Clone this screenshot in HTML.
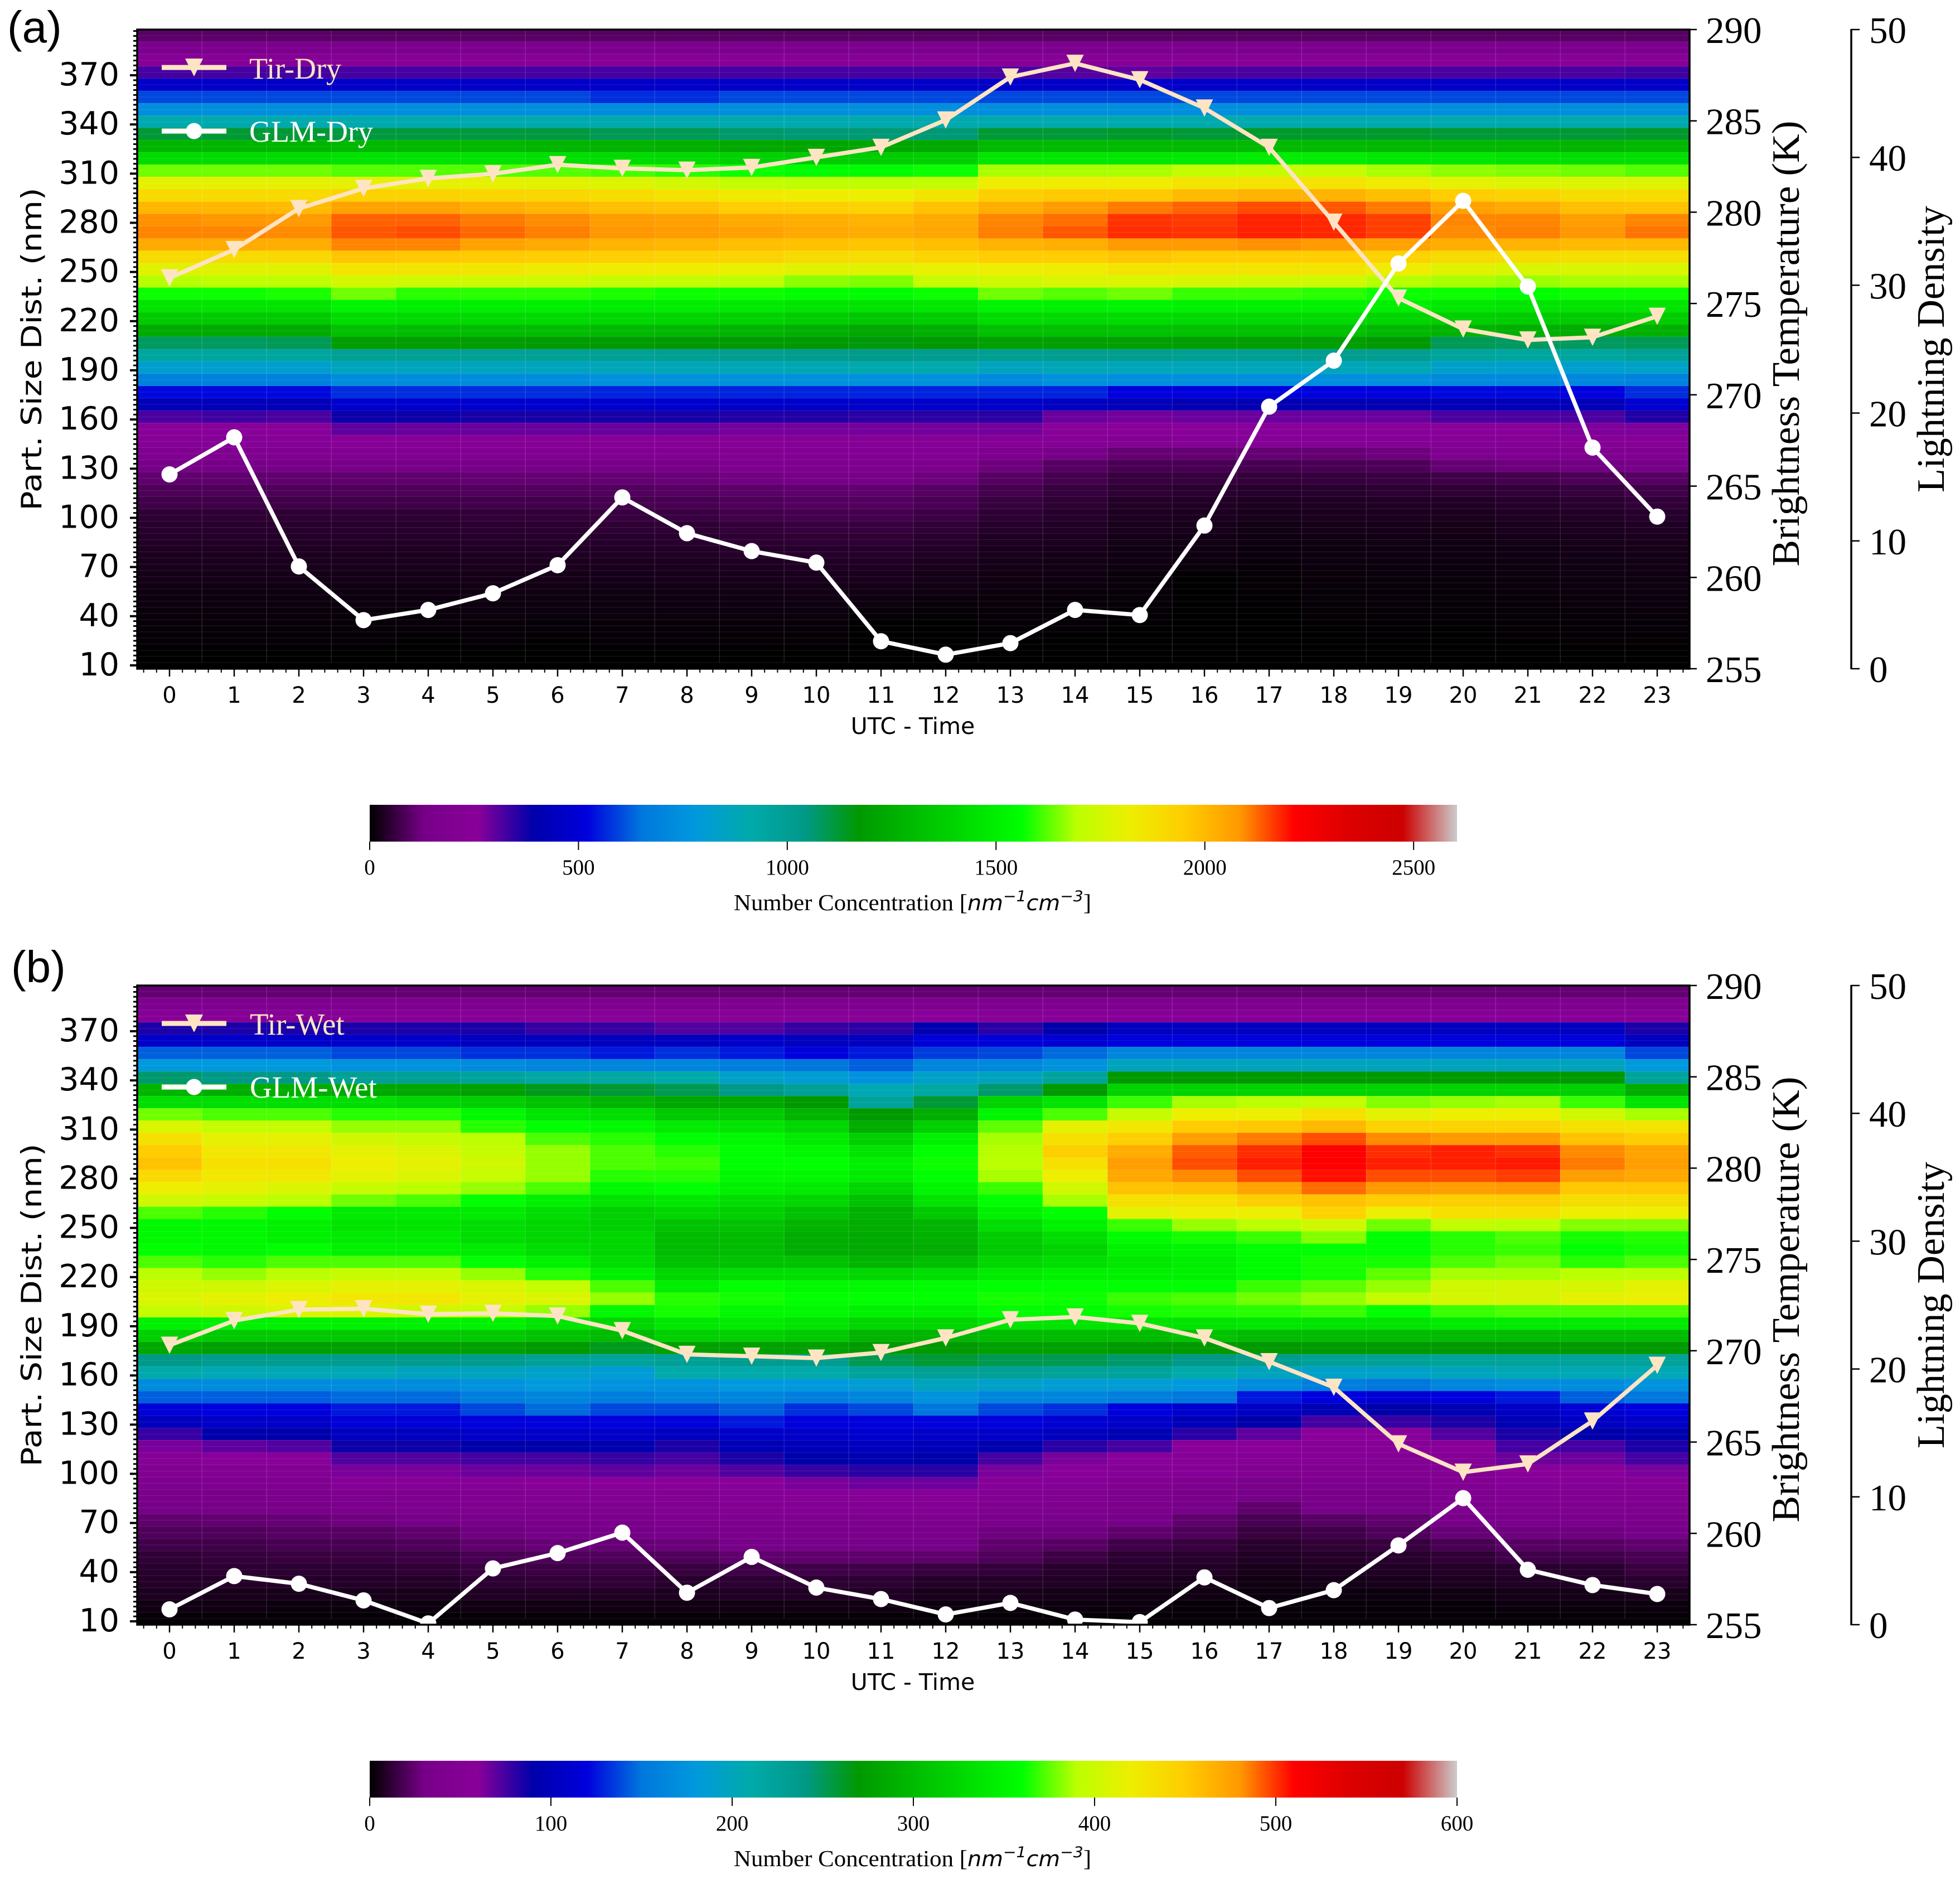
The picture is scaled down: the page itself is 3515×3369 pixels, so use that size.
<!DOCTYPE html>
<html lang="en">
<head>
<meta charset="utf-8">
<title>Particle size distribution with brightness temperature and lightning density</title>
<style>
html,body{margin:0;padding:0;background:#fff}
svg{display:block}
text{fill:#000}
.dv{font-family:"DejaVu Sans",sans-serif}
.sr{font-family:"Liberation Serif",serif}
.ss{font-family:"Liberation Sans",sans-serif}
</style>
</head>
<body>
<svg xmlns="http://www.w3.org/2000/svg" width="3515" height="3369" viewBox="0 0 3515 3369">
<defs>
<clipPath id="plot-clip"><rect x="246" y="53" width="2784" height="1146"/></clipPath>
<clipPath id="plot-clip-b"><rect x="246" y="1767" width="2784" height="1146"/></clipPath>
<linearGradient id="cbar-grad" x1="0" x2="1" y1="0" y2="0"></linearGradient>
</defs>

<g id="panel-a">
<g id="heat-a" shape-rendering="crispEdges"></g>
<g id="grid-a" shape-rendering="crispEdges"></g>
<g id="series-a" clip-path="url(#plot-clip)"></g>
<g id="axes-a"></g>
<text class="ss" x="13" y="76" font-size="80">(a)</text>
<g>
<line x1="290" x2="406" y1="121" y2="121" stroke="#ffe4c4" stroke-width="9"/>
<polygon points="332,105 364,105 348,137" fill="#ffe4c4"/>
<text class="sr" x="447" y="141" font-size="54" style="fill:#ffe4c4">Tir-Dry</text>
<line x1="290" x2="406" y1="235" y2="235" stroke="#fff" stroke-width="9"/>
<circle cx="348" cy="235" r="14.5" fill="#fff"/>
<text class="sr" x="447" y="254" font-size="54" style="fill:#fff">GLM-Dry</text>
</g>
<text class="dv" x="1637" y="1316" font-size="41" text-anchor="middle">UTC - Time</text>
<text class="dv" transform="translate(74,626) rotate(-90)" font-size="50" text-anchor="middle" textLength="579" lengthAdjust="spacingAndGlyphs">Part. Size Dist. (nm)</text>
<text class="sr" transform="translate(3226,616) rotate(-90)" font-size="70" text-anchor="middle" textLength="799" lengthAdjust="spacingAndGlyphs">Brightness Temperature (K)</text>
<text class="sr" transform="translate(3486,626) rotate(-90)" font-size="70" text-anchor="middle" textLength="514" lengthAdjust="spacingAndGlyphs">Lightning Density</text>
<g id="cbar-a"></g>
<text class="sr" x="1316" y="1632" font-size="41" textLength="641" lengthAdjust="spacingAndGlyphs">Number Concentration [<tspan class="dv" font-style="italic" font-size="38">nm</tspan><tspan class="dv" font-style="italic" font-size="27" dy="-16">−1</tspan><tspan class="dv" font-style="italic" font-size="38" dy="16">cm</tspan><tspan class="dv" font-style="italic" font-size="27" dy="-16">−3</tspan><tspan dy="16">]</tspan></text>
</g>

<g id="panel-b">
<g id="heat-b" shape-rendering="crispEdges"></g>
<g id="grid-b" shape-rendering="crispEdges"></g>
<g id="series-b" clip-path="url(#plot-clip-b)"></g>
<g id="axes-b"></g>
<text class="ss" x="20" y="1761" font-size="80">(b)</text>
<g>
<line x1="290" x2="406" y1="1835" y2="1835" stroke="#ffe4c4" stroke-width="9"/>
<polygon points="332,1819 364,1819 348,1851" fill="#ffe4c4"/>
<text class="sr" x="448" y="1855" font-size="55" style="fill:#ffe4c4">Tir-Wet</text>
<line x1="290" x2="406" y1="1949" y2="1949" stroke="#fff" stroke-width="9"/>
<circle cx="348" cy="1949" r="14.5" fill="#fff"/>
<text class="sr" x="448" y="1968" font-size="55" style="fill:#fff">GLM-Wet</text>
</g>
<text class="dv" x="1637" y="3030" font-size="41" text-anchor="middle">UTC - Time</text>
<text class="dv" transform="translate(74,2340) rotate(-90)" font-size="50" text-anchor="middle" textLength="579" lengthAdjust="spacingAndGlyphs">Part. Size Dist. (nm)</text>
<text class="sr" transform="translate(3226,2330) rotate(-90)" font-size="70" text-anchor="middle" textLength="799" lengthAdjust="spacingAndGlyphs">Brightness Temperature (K)</text>
<text class="sr" transform="translate(3486,2340) rotate(-90)" font-size="70" text-anchor="middle" textLength="514" lengthAdjust="spacingAndGlyphs">Lightning Density</text>
<g id="cbar-b"></g>
<text class="sr" x="1316" y="3346" font-size="41" textLength="641" lengthAdjust="spacingAndGlyphs">Number Concentration [<tspan class="dv" font-style="italic" font-size="38">nm</tspan><tspan class="dv" font-style="italic" font-size="27" dy="-16">−1</tspan><tspan class="dv" font-style="italic" font-size="38" dy="16">cm</tspan><tspan class="dv" font-style="italic" font-size="27" dy="-16">−3</tspan><tspan dy="16">]</tspan></text>
</g>
</svg>

<script>
const hours = [0,1,2,3,4,5,6,7,8,9,10,11,12,13,14,15,16,17,18,19,20,21,22,23];
const sizeTicks = [10,40,70,100,130,160,190,220,250,280,310,340,370];
const tempTicks = [255,260,265,270,275,280,285,290];
const lightningTicks = [0,10,20,30,40,50];
const dryBarTicks = [0,500,1000,1500,2000,2500];
const wetBarTicks = [0,100,200,300,400,500,600];
const tirDry = [276.4,277.95,280.2,281.3,281.85,282.1,282.6,282.4,282.3,282.45,283,283.55,285.05,287.4,288.15,287.25,285.7,283.55,279.45,275.3,273.6,273,273.15,274.3];
const glmDry = [15.2,18.1,8,3.8,4.6,5.9,8.1,13.4,10.6,9.2,8.3,2.15,1.1,2,4.6,4.2,11.2,20.5,24.1,31.7,36.6,29.9,17.3,11.9];
const tirWet = [270.3,271.65,272.25,272.3,272,272.05,271.9,271.1,269.8,269.7,269.6,269.9,270.7,271.7,271.85,271.5,270.7,269.4,268,264.9,263.35,263.8,266.15,269.2];
const glmWet = [1.2,3.8,3.2,1.9,0.1,4.4,5.6,7.2,2.5,5.3,2.9,2,0.8,1.7,0.4,0.2,3.7,1.3,2.7,6.2,9.9,4.3,3.1,2.4];

/* one array per UTC hour, 52 size bins from largest to smallest */
const dryCells = [
[100,170,245,325,470,600,740,900,1120,1280,1430,1640,1800,1900,2010,2090,2100,2040,1900,1790,1690,1570,1460,1360,1240,1080,950,820,690,530,430,320,260,240,200,130,105,85,68,50,44,38,32,27,22,16,13,11,8,6,1,0],
[100,170,245,325,470,600,740,900,1120,1280,1430,1640,1800,1900,2010,2085,2100,2035,1900,1790,1700,1570,1460,1360,1240,1080,950,820,690,530,430,330,260,240,200,130,105,85,68,50,44,38,32,27,22,16,13,11,8,6,1,0],
[100,170,245,325,470,600,740,900,1120,1280,1430,1640,1800,1900,2000,2080,2095,2030,1910,1790,1700,1580,1460,1360,1240,1090,950,820,690,530,430,320,260,240,200,130,105,85,68,50,44,38,32,27,22,16,13,11,8,6,1,0],
[95,170,245,325,470,600,740,900,1110,1290,1450,1620,1800,1930,2060,2130,2140,2100,1970,1860,1750,1640,1520,1430,1320,1190,990,860,730,570,480,380,300,250,205,135,105,85,68,50,44,38,32,27,22,16,13,11,8,6,1,0],
[95,170,245,325,470,600,740,900,1110,1290,1450,1620,1800,1930,2060,2130,2150,2100,1960,1860,1740,1590,1500,1420,1310,1190,990,860,730,570,480,380,290,245,205,135,105,85,68,50,44,38,32,27,22,16,13,11,8,3,0,0],
[95,170,245,325,470,600,740,900,1110,1290,1450,1620,1800,1920,2030,2110,2125,2060,1955,1855,1740,1590,1500,1420,1310,1190,990,860,730,570,480,370,290,245,205,135,110,90,72,55,46,40,34,28,23,17,14,12,9,6,1,0],
[95,170,245,325,470,600,740,900,1110,1280,1440,1620,1790,1910,2010,2095,2105,2040,1950,1840,1740,1590,1500,1420,1310,1180,990,860,730,570,480,370,290,245,210,140,110,90,72,55,46,40,34,28,23,17,14,12,7,3,0,0],
[95,170,245,325,470,570,730,900,1090,1270,1430,1610,1780,1890,1990,2075,2085,2020,1940,1830,1720,1580,1490,1410,1300,1180,990,870,750,560,480,370,290,245,210,140,110,90,75,60,50,42,35,29,24,18,14,12,9,6,1,0],
[95,170,245,325,470,570,730,900,1090,1260,1420,1590,1750,1870,1980,2065,2075,2010,1930,1830,1710,1570,1490,1400,1290,1170,1000,880,750,560,480,370,290,245,210,140,115,95,78,62,50,44,36,30,25,19,15,12,9,6,1,0],
[95,170,245,325,470,600,740,900,1070,1230,1390,1570,1710,1840,1950,2040,2060,1990,1930,1810,1700,1570,1480,1390,1280,1170,1010,880,750,560,470,360,280,240,210,180,125,100,85,72,56,48,40,32,26,20,15,12,9,5,1,0],
[95,170,245,325,470,600,740,900,1060,1220,1370,1550,1700,1830,1940,2030,2045,1980,1900,1790,1660,1560,1460,1370,1260,1170,1020,890,750,560,470,360,280,240,215,180,130,105,90,75,60,50,42,34,27,21,16,12,9,5,1,0],
[95,170,245,325,470,600,740,900,1060,1220,1370,1550,1700,1820,1930,2020,2035,1970,1890,1790,1650,1550,1450,1350,1230,1160,1030,900,750,560,470,350,280,240,215,180,130,105,90,75,60,50,42,34,27,21,14,8,2,0,0,0],
[95,170,245,325,470,600,740,900,1060,1230,1380,1570,1710,1860,1980,2040,2050,1990,1920,1810,1720,1570,1470,1370,1260,1170,1020,900,750,560,470,350,280,240,215,170,120,95,80,66,52,44,36,28,22,17,11,6,1,0,0,0],
[95,170,245,320,470,600,740,900,1120,1300,1470,1680,1830,1940,2030,2100,2105,2020,1950,1820,1740,1640,1520,1430,1320,1200,1000,860,720,560,470,350,280,240,170,120,95,75,60,50,40,33,27,22,17,13,10,8,6,3,1,0],
[95,170,245,310,470,600,740,900,1120,1300,1470,1680,1830,1960,2080,2120,2140,2030,1950,1830,1770,1620,1510,1420,1320,1200,1010,880,750,560,450,290,260,235,130,95,75,60,50,42,35,30,24,20,15,11,9,7,5,2,0,0],
[95,170,245,300,470,600,740,900,1130,1300,1470,1680,1830,1960,2110,2170,2175,2080,1970,1860,1770,1640,1520,1430,1330,1200,1010,870,740,520,430,280,260,220,110,80,60,50,38,32,27,22,18,15,11,9,7,5,2,0,0,0],
[95,170,245,320,470,600,740,900,1120,1300,1480,1710,1860,2000,2130,2165,2170,2080,1950,1860,1760,1600,1510,1420,1320,1190,1000,870,740,520,410,290,260,235,110,80,60,45,36,30,25,20,16,12,2,1,0,0,0,0,0,0],
[95,170,245,320,470,600,740,900,1130,1300,1490,1720,1870,2020,2150,2185,2185,2090,1950,1860,1750,1600,1510,1420,1320,1190,1000,870,740,520,410,290,260,235,110,78,56,42,32,26,20,16,12,9,6,4,2,1,0,0,0,0],
[95,170,245,320,470,600,740,900,1130,1300,1490,1720,1870,2020,2140,2180,2180,2080,1950,1860,1740,1590,1510,1420,1320,1190,1010,870,740,520,410,290,260,235,110,80,58,44,34,28,24,18,15,12,10,8,7,4,2,1,0,0],
[95,170,245,320,470,600,740,900,1130,1290,1470,1680,1840,1990,2110,2160,2160,2060,1930,1830,1690,1570,1500,1400,1290,1170,1010,890,740,520,410,290,260,235,120,85,62,48,36,30,24,20,16,13,11,9,8,6,3,2,1,0],
[95,170,245,320,470,600,740,900,1120,1290,1470,1660,1800,1950,2060,2100,2095,2030,1900,1790,1680,1570,1470,1380,1270,1090,960,830,720,530,430,320,260,240,185,110,70,50,36,28,23,19,16,13,11,9,7,5,2,1,0,0],
[95,170,245,320,470,600,740,900,1120,1290,1450,1650,1780,1930,2040,2100,2105,2020,1890,1770,1670,1560,1460,1370,1260,1080,950,820,720,530,430,320,260,240,195,120,75,55,42,34,27,22,18,15,13,11,9,7,5,3,1,0],
[95,170,245,320,470,600,740,900,1120,1280,1440,1640,1780,1890,1990,2070,2085,2000,1880,1770,1680,1570,1460,1360,1250,1080,950,820,710,520,430,320,270,240,195,125,85,60,46,36,30,25,21,18,15,13,11,9,6,4,1,0],
[95,170,245,330,470,600,740,900,1130,1290,1440,1620,1780,1890,1980,2100,2115,2000,1880,1770,1680,1570,1460,1370,1260,1090,980,840,690,570,490,360,270,240,200,135,95,70,55,42,34,28,23,20,16,14,12,10,7,4,1,0]
];
const wetCells = [
[25,42,57,84,108,144,180,246,294,330,378,408,432,450,456,438,420,402,372,354,354,360,372,390,402,408,396,348,318,282,240,210,168,144,117,102,78,63,54,48,40,36,30,24,20,16,12,10,9,7,4,1],
[25,42,57,84,108,144,180,240,288,330,372,396,414,426,432,426,414,396,366,354,354,354,366,384,402,414,402,348,312,276,234,204,168,144,120,108,90,69,60,52,44,36,30,25,20,16,13,11,9,6,4,1],
[25,42,57,84,108,144,180,240,288,330,372,396,414,426,432,426,408,390,360,348,348,360,372,390,408,420,408,348,312,276,234,204,168,144,120,108,90,72,60,52,44,38,32,26,22,18,14,11,9,6,3,1],
[25,42,57,84,108,138,174,228,282,330,366,384,402,414,420,414,396,378,342,336,342,348,372,396,414,426,408,348,312,276,234,204,168,147,126,117,102,87,72,63,54,42,36,28,22,18,14,11,9,6,3,1],
[25,42,57,84,108,138,174,228,282,324,366,384,396,408,414,408,390,372,342,336,342,348,372,396,414,426,402,348,312,276,234,198,168,147,126,117,102,87,72,63,54,44,38,30,24,20,15,12,9,6,3,1],
[25,42,57,84,102,132,168,222,276,318,354,366,390,396,402,396,384,360,342,330,330,342,360,384,408,414,396,348,312,276,234,198,174,156,138,120,108,90,75,66,56,48,42,33,28,24,18,14,11,8,4,1],
[25,42,57,78,102,132,162,216,264,306,336,360,372,384,384,384,372,348,330,324,324,330,348,366,396,408,384,336,306,270,228,192,180,162,147,120,108,90,75,66,60,50,42,36,30,26,20,15,12,8,4,1],
[25,42,57,78,102,126,162,216,258,294,330,354,366,372,372,366,354,336,318,318,324,324,330,348,372,384,354,324,300,264,222,186,174,156,138,120,108,93,78,69,60,50,42,36,30,26,20,15,12,8,4,1],
[25,42,57,72,102,132,162,210,252,282,312,342,360,366,370,366,360,340,324,306,300,300,306,324,345,366,363,340,318,276,228,210,174,162,138,120,102,84,75,66,60,52,46,40,34,27,20,14,10,7,4,1],
[25,42,57,72,108,126,156,192,240,282,312,336,354,360,360,354,348,330,318,306,300,300,306,330,360,363,354,342,318,276,234,210,180,162,144,126,108,96,84,72,60,54,48,42,36,30,24,16,11,8,4,1],
[25,42,57,78,102,120,150,186,228,270,294,324,342,354,360,354,342,324,306,294,288,288,306,330,354,360,354,336,312,276,234,210,180,156,132,120,108,99,90,78,63,57,50,42,36,30,24,16,11,8,4,1],
[25,42,57,80,102,126,144,174,204,222,270,288,318,336,348,342,324,306,291,288,285,285,294,324,354,360,348,324,294,270,252,222,186,162,138,120,111,102,93,81,66,57,50,42,36,30,24,16,11,8,4,1],
[25,42,60,93,117,135,162,192,216,258,288,318,348,360,362,360,351,336,312,294,291,288,303,330,357,360,348,324,294,270,258,228,198,174,150,120,108,99,90,81,66,57,50,42,36,30,24,14,9,6,3,1],
[25,42,57,81,117,138,165,198,246,321,351,375,387,389,390,387,369,360,348,330,315,312,324,342,360,363,357,336,300,276,252,228,192,162,138,120,108,93,75,63,57,50,42,36,28,24,20,13,9,6,3,1],
[25,42,57,90,114,147,174,222,270,336,372,414,432,447,432,420,402,387,360,348,330,321,330,348,360,362,357,336,300,276,252,225,186,162,132,114,102,81,63,60,54,46,40,34,28,22,15,10,8,5,3,1],
[25,42,57,102,120,162,198,270,321,369,396,426,447,468,477,471,456,432,414,369,357,348,339,348,360,369,363,336,300,270,246,222,186,156,120,108,96,75,60,54,48,42,36,30,24,16,11,9,7,4,3,1],
[25,42,57,102,120,162,198,270,321,387,420,450,477,492,495,483,459,432,420,384,363,351,345,348,360,372,365,336,306,270,240,210,180,150,111,99,81,60,57,54,42,36,30,24,20,14,10,8,6,4,2,1],
[25,42,57,102,120,162,198,270,321,390,420,453,486,501,504,495,474,447,420,390,369,360,357,357,369,378,366,339,300,270,234,198,168,126,105,90,69,60,54,48,36,30,24,18,14,10,8,6,4,3,2,1],
[25,42,57,102,120,162,198,270,321,396,432,462,495,510,512,507,489,456,444,402,381,360,363,363,375,384,369,336,300,270,228,192,156,120,96,75,60,57,54,48,42,36,30,22,16,12,9,7,5,3,2,1],
[25,42,57,102,120,162,198,270,321,381,414,444,483,501,504,495,480,450,420,378,360,360,363,375,384,396,360,336,300,270,228,192,150,114,90,78,60,57,51,48,42,36,30,24,20,14,10,8,6,3,2,1],
[25,42,57,102,120,162,198,270,321,384,420,444,480,504,504,495,477,447,432,393,366,366,372,387,402,405,369,342,300,270,225,198,162,120,96,84,72,60,54,50,48,42,38,32,26,18,12,9,7,4,2,1],
[25,42,57,102,120,162,198,270,321,387,420,444,480,501,505,498,480,447,432,390,372,369,378,387,405,405,372,342,300,270,225,204,168,126,105,96,84,75,66,60,54,48,42,36,28,22,16,10,8,5,3,1],
[25,42,57,102,120,162,198,270,318,369,402,432,456,483,486,477,453,435,420,381,363,360,366,390,405,414,372,342,300,270,225,204,168,144,114,105,90,75,66,60,54,48,42,36,28,22,16,10,8,5,3,1],
[25,42,57,84,102,138,180,222,288,336,387,429,450,474,477,471,453,435,420,381,365,363,372,390,414,417,372,342,300,270,225,204,174,150,120,108,93,84,75,63,54,48,42,36,30,24,18,14,10,6,3,1]
];

const NS = 'http://www.w3.org/2000/svg';
const spectralStops = [[0,0,0,0],[.05,.4667,0,.5333],[.1,.5333,0,.6],[.15,0,0,.6667],[.2,0,0,.8667],[.25,0,.4667,.8667],[.3,0,.6,.8667],[.35,0,.6667,.6667],[.4,0,.6,.5333],[.45,0,.6,0],[.5,0,.7333,0],[.55,0,.8667,0],[.6,0,1,0],[.65,.7333,1,0],[.7,.9333,.9333,0],[.75,1,.8,0],[.8,1,.6,0],[.85,1,0,0],[.9,.8667,0,0],[.95,.8,0,0],[1,.8,.8,.8]];
function spectral(t){
  t = Math.max(0, Math.min(1, t));
  for (let i = 1; i < spectralStops.length; i++){
    const a = spectralStops[i-1], b = spectralStops[i];
    if (t <= b[0]){
      const f = (t - a[0]) / (b[0] - a[0]);
      return 'rgb(' + [1,2,3].map(k => Math.round(255 * (a[k] + (b[k] - a[k]) * f))).join(',') + ')';
    }
  }
  return 'rgb(204,204,204)';
}
function add(parent, tag, attrs){
  const el = document.createElementNS(NS, tag);
  for (const k in attrs) el.setAttribute(k, attrs[k]);
  parent.appendChild(el);
  return el;
}
const grad = document.getElementById('cbar-grad');
spectralStops.forEach(s => add(grad, 'stop', {offset: s[0], 'stop-color': spectral(s[0])}));

const xLeft = 246, xRight = 3030, hourWidth = 116;
const xScale = h => xLeft + (h + 0.5) * hourWidth;
const sizeScale = (nm, off) => off + 1193 - (nm - 10) * 2.939;
const tempScale = (k, off) => off + 1199 - (k - 255) * 1146 / 35;
const lightScale = (v, off) => off + 1199 - v * 1146 / 50;
const barLeft = 663, barWidth = 1950;

function drawPanel(id, off, cells, tir, glm, vmax, barTicks){
  const heat = document.getElementById('heat-' + id);
  const top = 398, binStep = 7.5;
  cells.forEach((col, h) => {
    col.forEach((v, r) => {
      const y0 = sizeScale(top - r * binStep, off), y1 = sizeScale(top - (r + 1) * binStep, off);
      const cell = add(heat, 'rect', {x: xLeft + h * hourWidth, y: y0, width: hourWidth + 0.5, height: y1 - y0 + 0.5, fill: spectral(v / vmax)});
      
      
    });
  });
  const grid = document.getElementById('grid-' + id);
  for (let h = 1; h < hours.length; h++){
    const vl = add(grid, 'line', {x1: xLeft + h * hourWidth, x2: xLeft + h * hourWidth, y1: off + 53, y2: off + 1188, stroke: '#fff', 'stroke-opacity': 0.13, 'stroke-width': 1.5});
    
    
  }
  for (let r = 1; r < 104; r++){
    const yy = off + 53 + r * 11.02;
    const hl = add(grid, 'line', {x1: xLeft, x2: xRight, y1: yy, y2: yy, stroke: '#fff', 'stroke-opacity': 0.1, 'stroke-width': 1});
    
    
  }

  const series = document.getElementById('series-' + id);
  const tirLine = add(series, 'polyline', {points: tir.map((v, i) => xScale(hours[i]) + ',' + tempScale(v, off)).join(' '), fill: 'none', stroke: '#ffe4c4', 'stroke-width': 7.5, 'stroke-linejoin': 'round'});
  
  
  tir.forEach((v, i) => {
    const x = xScale(hours[i]), y = tempScale(v, off);
    const m = add(series, 'polygon', {points: (x - 15.5) + ',' + (y - 15.5) + ' ' + (x + 15.5) + ',' + (y - 15.5) + ' ' + x + ',' + (y + 15.5), fill: '#ffe4c4'});
    
    
  });
  const glmLine = add(series, 'polyline', {points: glm.map((v, i) => xScale(hours[i]) + ',' + lightScale(v, off)).join(' '), fill: 'none', stroke: '#fff', 'stroke-width': 7.5, 'stroke-linejoin': 'round'});
  
  
  glm.forEach((v, i) => {
    const m = add(series, 'circle', {cx: xScale(hours[i]), cy: lightScale(v, off), r: 14.5, fill: '#fff'});
    
    
  });

  const axes = document.getElementById('axes-' + id);
  const frame = add(axes, 'rect', {x: xLeft, y: off + 53, width: xRight - xLeft, height: 1146, fill: 'none', stroke: '#000', 'stroke-width': 3.5});
  
  
  for (let nm = 10; nm < 398; nm += 3){
    const y = sizeScale(nm, off);
    const t = add(axes, 'line', {x1: xLeft - 7, x2: xLeft, y1: y, y2: y, stroke: '#000', 'stroke-width': 3});
    
    
  }
  sizeTicks.forEach(nm => {
    const y = sizeScale(nm, off);
    const t = add(axes, 'line', {x1: xLeft - 13, x2: xLeft, y1: y, y2: y, stroke: '#000', 'stroke-width': 4});
    
    
    const l = add(axes, 'text', {x: 214, y: y + 18, 'font-size': 57, 'text-anchor': 'end', class: 'dv'});
    l.textContent = nm;
    
    
  });
  for (let h = -0.4; h < 23.5; h += 0.2){
    const x = xScale(h);
    const t = add(axes, 'line', {x1: x, x2: x, y1: off + 1199, y2: off + 1206, stroke: '#000', 'stroke-width': 2});
    
    
  }
  hours.forEach(h => {
    const x = xScale(h);
    const t = add(axes, 'line', {x1: x, x2: x, y1: off + 1199, y2: off + 1213, stroke: '#000', 'stroke-width': 2.5});
    
    
    const l = add(axes, 'text', {x: x, y: off + 1260, 'font-size': 40, 'text-anchor': 'middle', class: 'dv'});
    l.textContent = h;
    
    
  });
  tempTicks.forEach(k => {
    const y = tempScale(k, off);
    const t = add(axes, 'line', {x1: xRight, x2: xRight + 13, y1: y, y2: y, stroke: '#000', 'stroke-width': 2.5});
    
    
    const l = add(axes, 'text', {x: 3059, y: y + 24, 'font-size': 67, class: 'sr'});
    l.textContent = k;
    
    
  });
  const spine = add(axes, 'line', {x1: 3320, x2: 3320, y1: off + 52, y2: off + 1200, stroke: '#000', 'stroke-width': 3.5});
  
  
  lightningTicks.forEach(v => {
    const y = lightScale(v, off);
    const t = add(axes, 'line', {x1: 3320, x2: 3335, y1: y, y2: y, stroke: '#000', 'stroke-width': 2.5});
    
    
    const l = add(axes, 'text', {x: 3352, y: y + 24, 'font-size': 67, class: 'sr'});
    l.textContent = v;
    
    
  });

  const cbar = document.getElementById('cbar-' + id);
  const bar = add(cbar, 'rect', {x: barLeft, y: off + 1443, width: barWidth, height: 66, fill: 'url(#cbar-grad)'});
  
  
  barTicks.forEach(v => {
    const x = barLeft + v / vmax * barWidth;
    const t = add(cbar, 'line', {x1: x, x2: x, y1: off + 1509, y2: off + 1524, stroke: '#000', 'stroke-width': 2});
    
    
    const l = add(cbar, 'text', {x: x, y: off + 1568, 'font-size': 39, 'text-anchor': 'middle', class: 'sr'});
    l.textContent = v;
    
    
  });
}
drawPanel('a', 0, dryCells, tirDry, glmDry, 2604, dryBarTicks);
drawPanel('b', 1714, wetCells, tirWet, glmWet, 600, wetBarTicks);
</script>
</body>
</html>
